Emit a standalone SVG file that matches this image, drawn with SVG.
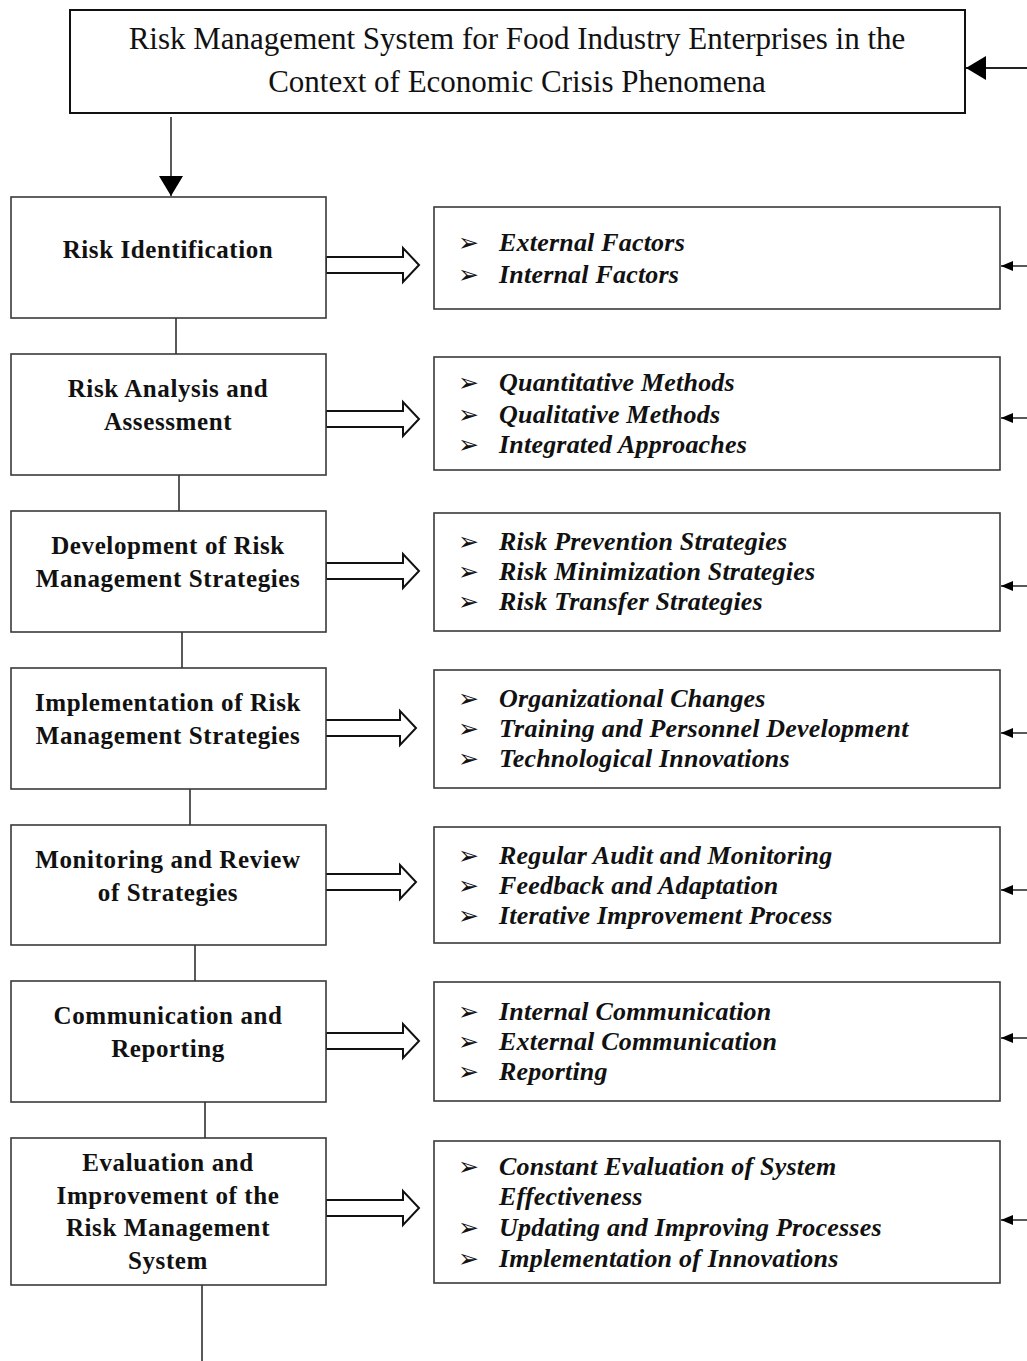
<svg xmlns="http://www.w3.org/2000/svg" width="1027" height="1361" viewBox="0 0 1027 1361">
<style>
.box{fill:#fff;stroke:#3a3a3a;stroke-width:1.6}
.title{font-family:"Liberation Serif","Times New Roman",serif;font-size:31px;fill:#111;text-anchor:middle}
.lt{font-family:"Liberation Serif","Times New Roman",serif;font-size:25px;font-weight:bold;letter-spacing:0.6px;fill:#111;text-anchor:middle}
.rt{font-family:"Liberation Serif","Times New Roman",serif;font-size:26px;font-weight:bold;font-style:italic;letter-spacing:0.2px;fill:#111}
.bl{font-family:"DejaVu Sans",sans-serif;font-size:25px;fill:#111}
.ln{stroke:#222;stroke-width:1.5;fill:none}
.hollow{fill:#fff;stroke:#111;stroke-width:2;stroke-linejoin:miter}
</style>
<defs>
<marker id="big" markerUnits="userSpaceOnUse" markerWidth="20" markerHeight="24" refX="20" refY="12" orient="auto"><path d="M0,0 L20,12 L0,24 Z" fill="#000"/></marker>
<marker id="small" markerUnits="userSpaceOnUse" markerWidth="12" markerHeight="10" refX="12" refY="5" orient="auto"><path d="M0,0 L12,5 L0,10 Z" fill="#000"/></marker>
</defs>

<g id="connectors">
<line class="ln" x1="1027" y1="68" x2="966" y2="68" marker-end="url(#big)" style="stroke-width:2"/>
<line class="ln" x1="171" y1="117" x2="171" y2="196" marker-end="url(#big)"/>
<line class="ln" x1="176" y1="318" x2="176" y2="354"/>
<line class="ln" x1="179" y1="475" x2="179" y2="511"/>
<line class="ln" x1="182" y1="632" x2="182" y2="668"/>
<line class="ln" x1="190" y1="789" x2="190" y2="825"/>
<line class="ln" x1="195" y1="945" x2="195" y2="981"/>
<line class="ln" x1="205" y1="1102" x2="205" y2="1138"/>
<line class="ln" x1="202" y1="1285" x2="202" y2="1361"/>
<polygon class="hollow" points="326,257 403,257 403,248 419,265 403,282 403,273 326,273"/>
<polygon class="hollow" points="326,411 403,411 403,402 419,419 403,436 403,427 326,427"/>
<polygon class="hollow" points="326,563 403,563 403,554 419,571 403,588 403,579 326,579"/>
<polygon class="hollow" points="323,720 400,720 400,711 416,728 400,745 400,736 323,736"/>
<polygon class="hollow" points="323,874 400,874 400,865 416,882 400,899 400,890 323,890"/>
<polygon class="hollow" points="326,1033 403,1033 403,1024 419,1041 403,1058 403,1049 326,1049"/>
<polygon class="hollow" points="326,1200 403,1200 403,1191 419,1208 403,1225 403,1216 326,1216"/>
<line class="ln" x1="1027" y1="266" x2="1001" y2="266" marker-end="url(#small)"/>
<line class="ln" x1="1027" y1="418" x2="1001" y2="418" marker-end="url(#small)"/>
<line class="ln" x1="1027" y1="586" x2="1001" y2="586" marker-end="url(#small)"/>
<line class="ln" x1="1027" y1="733" x2="1001" y2="733" marker-end="url(#small)"/>
<line class="ln" x1="1027" y1="890" x2="1001" y2="890" marker-end="url(#small)"/>
<line class="ln" x1="1027" y1="1038" x2="1001" y2="1038" marker-end="url(#small)"/>
<line class="ln" x1="1027" y1="1220" x2="1001" y2="1220" marker-end="url(#small)"/>
</g>

<g id="title">
<rect x="70" y="10" width="895" height="103" fill="#fff" stroke="#111" stroke-width="2"/>
<text class="title" x="517" y="49">Risk Management System for Food Industry Enterprises in the</text>
<text class="title" x="517" y="92">Context of Economic Crisis Phenomena</text>
</g>

<g id="step1">
<rect class="box" x="11" y="197" width="315" height="121"/>
<text class="lt" x="168" y="258">Risk Identification</text>
</g>
<g id="step2">
<rect class="box" x="11" y="354" width="315" height="121"/>
<text class="lt" x="168" y="397">Risk Analysis and</text>
<text class="lt" x="168" y="430">Assessment</text>
</g>
<g id="step3">
<rect class="box" x="11" y="511" width="315" height="121"/>
<text class="lt" x="168" y="554">Development of Risk</text>
<text class="lt" x="168" y="587">Management Strategies</text>
</g>
<g id="step4">
<rect class="box" x="11" y="668" width="315" height="121"/>
<text class="lt" x="168" y="711">Implementation of Risk</text>
<text class="lt" x="168" y="744">Management Strategies</text>
</g>
<g id="step5">
<rect class="box" x="11" y="825" width="315" height="120"/>
<text class="lt" x="168" y="868">Monitoring and Review</text>
<text class="lt" x="168" y="901">of Strategies</text>
</g>
<g id="step6">
<rect class="box" x="11" y="981" width="315" height="121"/>
<text class="lt" x="168" y="1024">Communication and</text>
<text class="lt" x="168" y="1057">Reporting</text>
</g>
<g id="step7">
<rect class="box" x="11" y="1138" width="315" height="147"/>
<text class="lt" x="168" y="1171">Evaluation and</text>
<text class="lt" x="168" y="1204">Improvement of the</text>
<text class="lt" x="168" y="1236">Risk Management</text>
<text class="lt" x="168" y="1269">System</text>
</g>

<g id="detail1">
<rect class="box" x="434" y="207" width="566" height="102"/>
<text class="bl" x="458" y="251">➢</text><text class="rt" x="499" y="251">External Factors</text>
<text class="bl" x="458" y="283">➢</text><text class="rt" x="499" y="283">Internal Factors</text>
</g>
<g id="detail2">
<rect class="box" x="434" y="357" width="566" height="113"/>
<text class="bl" x="458" y="391">➢</text><text class="rt" x="499" y="391">Quantitative Methods</text>
<text class="bl" x="458" y="423">➢</text><text class="rt" x="499" y="423">Qualitative Methods</text>
<text class="bl" x="458" y="453">➢</text><text class="rt" x="499" y="453">Integrated Approaches</text>
</g>
<g id="detail3">
<rect class="box" x="434" y="513" width="566" height="118"/>
<text class="bl" x="458" y="550">➢</text><text class="rt" x="499" y="550">Risk Prevention Strategies</text>
<text class="bl" x="458" y="580">➢</text><text class="rt" x="499" y="580">Risk Minimization Strategies</text>
<text class="bl" x="458" y="610">➢</text><text class="rt" x="499" y="610">Risk Transfer Strategies</text>
</g>
<g id="detail4">
<rect class="box" x="434" y="670" width="566" height="118"/>
<text class="bl" x="458" y="707">➢</text><text class="rt" x="499" y="707">Organizational Changes</text>
<text class="bl" x="458" y="737">➢</text><text class="rt" x="499" y="737">Training and Personnel Development</text>
<text class="bl" x="458" y="767">➢</text><text class="rt" x="499" y="767">Technological Innovations</text>
</g>
<g id="detail5">
<rect class="box" x="434" y="827" width="566" height="116"/>
<text class="bl" x="458" y="864">➢</text><text class="rt" x="499" y="864">Regular Audit and Monitoring</text>
<text class="bl" x="458" y="894">➢</text><text class="rt" x="499" y="894">Feedback and Adaptation</text>
<text class="bl" x="458" y="924">➢</text><text class="rt" x="499" y="924">Iterative Improvement Process</text>
</g>
<g id="detail6">
<rect class="box" x="434" y="982" width="566" height="119"/>
<text class="bl" x="458" y="1020">➢</text><text class="rt" x="499" y="1020">Internal Communication</text>
<text class="bl" x="458" y="1050">➢</text><text class="rt" x="499" y="1050">External Communication</text>
<text class="bl" x="458" y="1080">➢</text><text class="rt" x="499" y="1080">Reporting</text>
</g>
<g id="detail7">
<rect class="box" x="434" y="1141" width="566" height="142"/>
<text class="bl" x="458" y="1175">➢</text><text class="rt" x="499" y="1175">Constant Evaluation of System</text>
<text class="rt" x="499" y="1205">Effectiveness</text>
<text class="bl" x="458" y="1236">➢</text><text class="rt" x="499" y="1236">Updating and Improving Processes</text>
<text class="bl" x="458" y="1267">➢</text><text class="rt" x="499" y="1267">Implementation of Innovations</text>
</g>
</svg>
